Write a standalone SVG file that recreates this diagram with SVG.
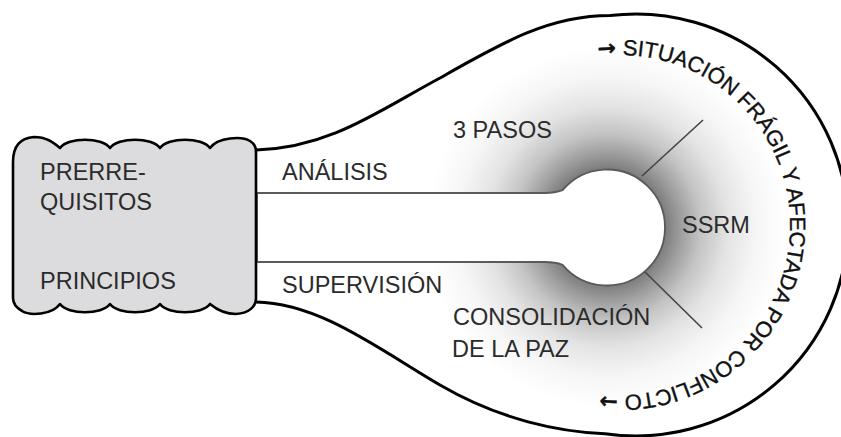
<svg xmlns="http://www.w3.org/2000/svg" width="841" height="437" viewBox="0 0 841 437">
<defs>
<radialGradient id="glow" gradientUnits="userSpaceOnUse" cx="607" cy="227" r="200">
<stop offset="0" stop-color="#6a6a6a"/>
<stop offset="0.29" stop-color="#7c7c7c"/>
<stop offset="0.36" stop-color="#9a9a9a"/>
<stop offset="0.47" stop-color="#c4c4c4"/>
<stop offset="0.6" stop-color="#e3e3e3"/>
<stop offset="0.75" stop-color="#f6f6f6"/>
<stop offset="0.9" stop-color="#fff"/>
</radialGradient>
<path id="ring" d="M561.9,65.3 A170,170 0 1,1 510.7,355.2"/>
</defs>
<style>
.lbl{font-family:"Liberation Sans",Arial,sans-serif;font-size:23.5px;fill:#2b2b2b}
.ring{font-family:"Liberation Sans",Arial,sans-serif;font-size:22px;fill:#111;stroke:#111;stroke-width:0.35}
.arw{font-family:"DejaVu Sans",sans-serif;font-weight:bold}
.edge{stroke:#000;stroke-width:3;fill:none;stroke-linejoin:round}
.spoke{stroke:#444;stroke-width:1.6;fill:none}
</style>
<rect width="841" height="437" fill="#fff"/>
<g id="bulb">
<path d="M256,150 C330,148 380,110 440,78 C500,44 548,15.6 610,15.6 A212,211 0 0,1 848,225 A212,211 0 0,1 605,433.7 C560,432 500,420 440,385 C380,350 320,303 256,302 Z" fill="url(#glow)"/>
<path class="edge" d="M256,150 C330,148 380,110 440,78 C500,44 548,15.6 610,15.6 A212,211 0 0,1 848,225 A212,211 0 0,1 605,433.7 C560,432 500,420 440,385 C380,350 320,303 256,302"/>
</g>
<g id="keyhole">
<path d="M257,193 L545,193 Q555,193 562.6,190.2 A58,58 0 1,1 562.6,264.8 Q555,262 545,262 L257,262 Z" fill="#fff" stroke="#5a5a5a" stroke-width="1.8"/>
</g>
<g id="box">
<path d="M13,298 L13,162 C13,146 20,138 34,137 C46,137 53,142 60,148 C68,137 102,137 110,148 C118,137 152,137 160,148 C168,137 202,137 210,148 C218,137 242,136 250,141 C255,144 256,148 256,152 L256,298 C256,306 250,313 236,314 C224,314 216,309 210,304 C202,315 168,315 160,304 C152,315 118,315 110,304 C102,315 68,315 60,304 C52,315 30,316 22,311 C15,307 13,303 13,298 Z" fill="#dcdcde" stroke="#000" stroke-width="2.6" stroke-linejoin="round"/>
<text class="lbl" x="40" y="180">PRERRE-</text>
<text class="lbl" x="40" y="210">QUISITOS</text>
<text class="lbl" x="40" y="289">PRINCIPIOS</text>
</g>
<g id="connectors">
<line class="spoke" x1="642" y1="176" x2="703" y2="120"/>
<line class="spoke" x1="645" y1="272" x2="702" y2="328"/>
</g>
<g id="labels">
<text class="lbl" x="282" y="180">ANÁLISIS</text>
<text class="lbl" x="453" y="138">3 PASOS</text>
<text class="lbl" x="282" y="293">SUPERVISIÓN</text>
<text class="lbl" x="453" y="325">CONSOLIDACIÓN</text>
<text class="lbl" x="452" y="357">DE LA PAZ</text>
<text class="lbl" x="682" y="233">SSRM</text>
</g>
<g id="ring-text">
<text class="ring"><textPath href="#ring" startOffset="37.4" textLength="576" lengthAdjust="spacing"><tspan class="arw">→</tspan> SITUACIÓN FRÁGIL Y AFECTADA POR CONFLICTO <tspan class="arw">→</tspan></textPath></text>
</g>
</svg>
